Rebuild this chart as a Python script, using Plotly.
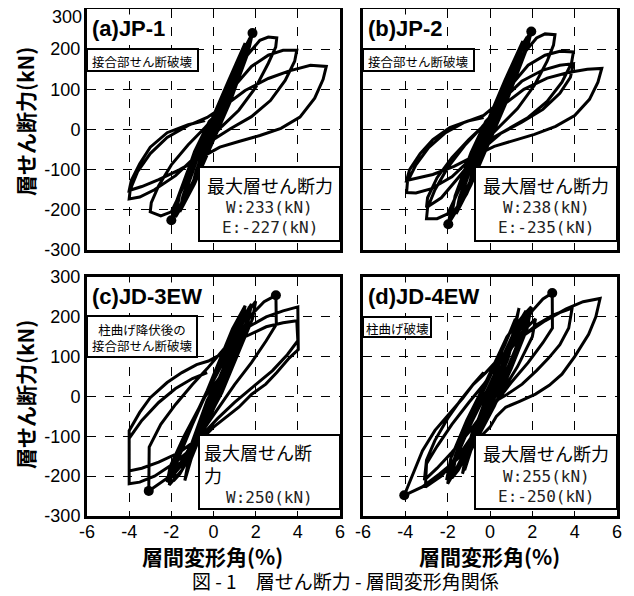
import plotly.graph_objects as go
from plotly.subplots import make_subplots

# ---------------- data (drift %, shear kN) ----------------
LOOP_A = [
    (0, 0), (0.25, 38), (0.5, 72), (0.35, 48), (0, 2), (-0.25, -36), (-0.5, -70), (-0.35, -45), (0, -2),
    (0.5, 68), (1.0, 140), (0.85, 112), (0.3, 30), (-0.3, -38), (-1.0, -138), (-0.85, -108), (-0.3, -25),
    (0.4, 60), (1.0, 148), (1.5, 205), (1.35, 172), (0.7, 75), (0, -10), (-0.8, -110), (-1.5, -195), (-1.35, -160), (-0.7, -62),
    (0.1, 30), (0.9, 135), (1.5, 205), (1.85, 240), (1.7, 205), (1.1, 118), (0.3, 12), (-0.5, -80), (-1.3, -165), (-1.75, -210),
    (-2.0, -226), (-1.85, -192), (-1.2, -100), (-0.4, -10),
    (0.4, 55), (1.2, 160), (1.75, 222), (1.6, 185), (1.0, 100), (0.2, -2), (-0.6, -90), (-1.4, -175), (-1.9, -214), (-1.75, -178),
    (-1.1, -92), (-0.3, 0),
    (0.6, 95), (1.3, 185), (1.7, 225), (1.55, 180), (0.8, 70), (0.0, -25), (-0.9, -135), (-1.6, -205), (-1.45, -165),
    (-0.75, -70), (0.0, 35), (0.7, 120), (1.5, 215), (1.35, 170), (0.5, 45), (-0.3, -60), (-1.1, -155), (-1.8, -218),
    (-1.6, -160), (-0.9, -55), (-0.2, 20),
    (0.3, 45), (0.9, 115), (1.6, 185), (2.2, 222), (2.6, 230), (3.0, 228), (2.95, 205), (2.6, 165), (2.0, 105), (1.2, 48), (0.4, 8),
    (-0.3, -32), (-1.0, -95), (-1.6, -160), (-2.0, -205), (-2.5, -215), (-3.0, -205), (-2.95, -182), (-2.6, -140), (-2.0, -88),
    (-1.2, -38), (-0.4, 5),
    (0.3, 45), (1.0, 108), (1.8, 157), (2.6, 185), (3.3, 197), (3.95, 197), (3.85, 170), (3.4, 122), (2.7, 72), (1.8, 32), (0.8, 2),
    (0, -25), (-0.8, -65), (-1.8, -115), (-2.8, -150), (-3.5, -168), (-4.0, -173), (-3.95, -150), (-3.6, -105), (-3.0, -60),
    (-2.2, -20), (-1.2, 10), (-0.3, 30),
    (0.5, 58), (1.5, 97), (2.6, 127), (3.6, 146), (4.6, 160), (5.35, 157), (5.2, 125), (4.8, 78), (4.1, 31), (3.2, 3), (2.2, -15),
    (1.2, -30), (0.3, -44), (-0.6, -70), (-1.6, -100), (-2.6, -125), (-3.4, -142), (-4.0, -152), (-3.9, -127), (-3.5, -85),
    (-3.0, -44), (-2.2, -8), (-1.2, 12), (-0.4, 22),
]

LOOP_B = [
    (0, 0), (0.25, 40), (0.5, 75), (0.35, 50), (0, 2), (-0.25, -38), (-0.5, -72), (-0.35, -48), (0, -2),
    (0.5, 70), (1.0, 145), (0.85, 115), (0.3, 32), (-0.3, -40), (-1.0, -140), (-0.85, -110), (-0.3, -28),
    (0.4, 62), (1.0, 150), (1.5, 210), (1.35, 175), (0.7, 78), (0, -10), (-0.8, -112), (-1.5, -200), (-1.35, -165), (-0.7, -65),
    (0.1, 32), (0.9, 138), (1.5, 210), (1.95, 244), (1.8, 210), (1.15, 120), (0.3, 12), (-0.5, -82), (-1.3, -170), (-1.75, -215),
    (-1.97, -236), (-1.85, -198), (-1.2, -105), (-0.4, -12),
    (0.4, 58), (1.2, 165), (1.8, 228), (1.65, 190), (1.0, 102), (0.2, -2), (-0.6, -92), (-1.4, -180), (-1.9, -222), (-1.75, -185),
    (-1.1, -95), (-0.3, 0),
    (0.6, 98), (1.3, 190), (1.75, 230), (1.6, 185), (0.8, 72), (0.0, -25), (-0.9, -138), (-1.6, -210), (-1.45, -170),
    (-0.75, -72), (0.0, 35), (0.7, 122), (1.55, 220), (1.4, 172), (0.5, 45), (-0.3, -62), (-1.1, -160), (-1.85, -225),
    (-1.65, -165), (-0.9, -58), (-0.2, 20),
    (0.3, 48), (0.9, 120), (1.6, 190), (2.2, 228), (2.6, 238), (3.07, 236), (3.0, 210), (2.7, 170), (2.1, 110), (1.3, 52), (0.5, 10),
    (-0.3, -32), (-1.0, -98), (-1.6, -165), (-2.0, -210), (-2.5, -222), (-3.0, -222), (-2.95, -195), (-2.6, -150), (-2.0, -95),
    (-1.2, -40), (-0.4, 5),
    (0.3, 48), (1.0, 110), (1.8, 160), (2.6, 185), (3.3, 195), (3.94, 193), (3.85, 165), (3.4, 118), (2.7, 70), (1.8, 30), (0.8, 0),
    (0, -25), (-0.8, -68), (-1.8, -118), (-2.8, -148), (-3.5, -158), (-3.94, -157), (-3.9, -130), (-3.5, -88), (-2.9, -45),
    (-2.1, -8), (-1.2, 18), (-0.3, 35),
    (0.5, 70), (1.5, 120), (2.5, 148), (3.3, 160), (3.94, 164), (3.8, 130), (3.3, 90), (2.5, 50), (1.5, 18), (0.5, -10),
    (-0.5, -55), (-1.5, -120), (-2.3, -170), (-3.0, -194), (-2.95, -170), (-2.5, -120), (-1.8, -70), (-1.0, -25), (-0.3, 10),
    (0.6, 60), (1.6, 100), (2.7, 128), (3.7, 142), (4.6, 150), (5.28, 152), (5.1, 118), (4.7, 75), (4.0, 35), (3.1, 8), (2.1, -12),
    (1.1, -28), (0.2, -42), (-0.7, -65), (-1.7, -92), (-2.7, -112), (-3.5, -122), (-3.94, -127), (-3.8, -100), (-3.3, -60),
    (-2.7, -25), (-1.9, 5), (-1.0, 22), (-0.3, 30),
]

LOOP_C = [
    (0, 0), (0.3, 40), (0.6, 75), (0.45, 50), (0, 0), (-0.3, -38), (-0.6, -72), (-0.45, -48), (0, -2),
    (0.5, 65), (1.0, 128), (0.85, 100), (0.3, 25), (-0.3, -40), (-1.0, -125), (-0.85, -95), (-0.3, -25),
    (0.5, 70), (1.1, 150), (1.45, 222), (1.3, 180), (0.6, 70), (0, -15), (-0.8, -110), (-1.36, -211), (-1.2, -165), (-0.5, -60),
    (0.2, 25), (1.0, 140), (1.6, 210), (2.0, 239), (1.85, 195), (1.2, 110), (0.4, 10), (-0.5, -80), (-1.3, -160), (-2.0, -202),
    (-1.85, -160), (-1.2, -85), (-0.4, 0),
    (0.4, 55), (1.2, 160), (1.7, 225), (1.55, 185), (0.9, 95), (0.1, 0), (-0.7, -90), (-1.68, -177), (-2.2, -215), (-2.05, -175),
    (-1.4, -100), (-0.5, -10),
    (0.6, 100), (1.3, 190), (1.8, 232), (1.6, 175), (0.9, 80), (0.1, -20), (-0.8, -120), (-1.6, -195), (-1.9, -212),
    (-1.7, -160), (-1.0, -70), (-0.2, 25), (0.7, 130), (1.3, 200), (1.15, 150), (0.4, 40), (-0.5, -75), (-1.5, -185),
    (-2.1, -222), (-1.9, -170), (-1.1, -75), (-0.3, 15), (0.9, 170), (1.5, 228), (1.3, 170), (0.5, 45), (-0.4, -70),
    (-1.2, -175), (-1.05, -120), (-0.3, -10),
    (0.3, 50), (1.0, 135), (1.8, 205), (2.4, 238), (2.96, 254), (2.98, 181), (2.5, 140), (1.8, 85), (1.0, 30), (0.2, -30),
    (-0.5, -85), (-1.3, -150), (-2.2, -205), (-3.07, -237), (-3.05, -127), (-2.5, -70), (-1.8, -20), (-1.0, 30), (-0.3, 70),
    (0.5, 120), (1.5, 170), (2.5, 200), (3.3, 215), (4.0, 225), (4.02, 118), (3.6, 97), (3.0, 60), (2.48, 31), (1.8, 5),
    (1.2, -27), (0.5, -55), (0, -77), (-0.8, -120), (-1.8, -165), (-2.8, -200), (-3.5, -215), (-4.0, -219), (-4.0, -86),
    (-3.5, -40), (-3.0, -3), (-2.2, 35), (-1.5, 60), (-0.8, 80), (-0.24, 89),
    (0.5, 110), (1.5, 150), (2.5, 175), (3.3, 185), (3.95, 190), (4.0, 140), (3.5, 105), (2.8, 65), (2.0, 30), (1.0, -15),
    (0.2, -55), (-0.6, -100), (-1.6, -140), (-2.6, -165), (-3.4, -180), (-4.0, -187), (-4.0, -105), (-3.4, -60), (-2.6, -15),
    (-1.8, 20), (-1.0, 45), (-0.3, 60),
]

LOOP_D = [
    (0, 0), (0.3, 38), (0.6, 72), (0.45, 48), (0, 0), (-0.3, -36), (-0.6, -70), (-0.45, -46), (0, -2),
    (0.5, 62), (1.0, 125), (0.85, 95), (0.3, 22), (-0.3, -40), (-1.0, -122), (-0.85, -92), (-0.3, -25),
    (0.5, 68), (1.0, 140), (1.37, 222), (1.2, 175), (0.6, 75), (0, -10), (-0.8, -105), (-1.3, -194), (-1.15, -150), (-0.5, -55),
    (0.2, 25), (1.0, 130), (1.5, 185), (1.84, 214), (1.7, 170), (1.1, 95), (0.4, 15), (-0.5, -75), (-1.3, -150), (-1.77, -200),
    (-1.65, -160), (-1.0, -80), (-0.3, 0),
    (0.5, 70), (1.3, 150), (2.15, 195), (2.0, 150), (1.3, 75), (0.5, 5), (-0.5, -80), (-1.4, -165), (-2.0, -219), (-1.85, -175),
    (-1.2, -100), (-0.4, -15),
    (0.6, 100), (1.3, 180), (1.7, 215), (1.55, 165), (0.9, 80), (0.1, -15), (-0.8, -115), (-1.5, -185), (-1.8, -205),
    (-1.65, -150), (-1.0, -65), (-0.2, 25), (0.7, 130), (1.2, 195), (1.05, 145), (0.3, 30), (-0.6, -80), (-1.5, -175),
    (-2.05, -210), (-1.85, -155), (-1.1, -60), (-0.3, 25), (0.8, 150), (1.6, 205), (1.95, 225), (1.75, 170), (1.0, 70),
    (0.2, -25), (-0.9, -135), (-1.2, -185), (-1.05, -130), (-0.3, -20),
    (0.4, 60), (1.2, 150), (2.0, 215), (2.5, 245), (2.94, 260), (2.95, 172), (2.5, 135), (1.8, 85), (1.0, 35), (0.2, -20),
    (-0.6, -80), (-1.5, -150), (-2.3, -200), (-3.05, -227), (-3.0, -169), (-2.5, -125), (-1.8, -70), (-1.0, -15), (-0.3, 30),
    (0.5, 90), (1.3, 140), (2.2, 180), (3.0, 205), (3.88, 222), (3.72, 172), (3.3, 130), (2.78, 97), (2.2, 65), (1.52, 31),
    (0.8, 5), (0.27, -11), (-0.36, -44), (-1.0, -90), (-1.8, -140), (-2.5, -180), (-3.1, -210), (-3.0, -160), (-2.6, -110),
    (-2.0, -55), (-1.4, -10), (-0.8, 30), (-0.2, 60),
    (0.5, 100), (1.5, 150), (2.6, 190), (3.6, 220), (4.4, 238), (5.2, 246), (5.0, 200), (4.66, 156), (4.0, 100), (3.4, 56),
    (2.8, 28), (2.15, 6), (1.4, -12), (0.74, -27), (0.3, -50), (0, -77), (-0.8, -120), (-1.6, -160), (-2.4, -195), (-3.2, -227),
    (-4.05, -248), (-3.6, -190), (-3.19, -136), (-2.6, -85), (-1.93, -44), (-1.3, -5), (-0.8, 30), (-0.3, 60),
]

PEAKS_A = [(1.85, 240), (-2.0, -226)]
PEAKS_B = [(1.95, 244), (-1.97, -236)]
PEAKS_C = [(2.96, 254), (-3.07, -237)]
PEAKS_D = [(2.94, 260), (-4.05, -248)]

PANEL_TITLES = ["(a)JP-1", "(b)JP-2", "(c)JD-3EW", "(d)JD-4EW"]
FAILURE_MODES = ["接合部せん断破壊", "接合部せん断破壊", "柱曲げ降伏後の<br>接合部せん断破壊", "柱曲げ破壊"]
MAX_W = ["W:233(kN)", "W:238(kN)", "W:250(kN)", "W:255(kN)"]
MAX_E = ["E:-227(kN)", "E:-235(kN)", "", "E:-250(kN)"]
Y_TICKS = [-300, -200, -100, 0, 100, 200, 300]
X_TICKS = [-6, -4, -2, 0, 2, 4, 6]
Y_TITLE = "層せん断力(kN)"
X_TITLE = "層間変形角(%)"
CAPTION = "図 - 1　層せん断力 - 層間変形角関係"

# ---------------- layout helpers (pixel geometry) ----------------
# the page body has an 8px default margin, so the figure starts at (8, 8)
OFF = 8
W, H = 634 - OFF, 596 - OFF
def px(x):
    return (x - OFF) / W
def py(y):
    return 1 - (y - OFF) / H

# panel rectangles in page pixels: left, top, right, bottom
RECTS = [(87, 9, 340, 250), (363, 9, 617, 250), (87, 277, 340, 516), (363, 277, 617, 516)]

CJK = "Noto Sans CJK JP"
SANS = "Liberation Sans, Arial, sans-serif"

fig = make_subplots(rows=2, cols=2)
loops = [LOOP_A, LOOP_B, LOOP_C, LOOP_D]
peaks = [PEAKS_A, PEAKS_B, PEAKS_C, PEAKS_D]
pos = [(1, 1), (1, 2), (2, 1), (2, 2)]
for lp, pk, (r, c) in zip(loops, peaks, pos):
    fig.add_trace(go.Scatter(x=[p[0] for p in lp], y=[p[1] for p in lp], mode="lines",
                             line=dict(color="black", width=3), showlegend=False,
                             hoverinfo="skip"), row=r, col=c)
    fig.add_trace(go.Scatter(x=[p[0] for p in pk], y=[p[1] for p in pk], mode="markers",
                             marker=dict(color="black", size=10), showlegend=False),
                  row=r, col=c)

axis_common = dict(showgrid=True, gridcolor="black", gridwidth=1, griddash="dash",
                   zeroline=False, showline=True, mirror=True, linecolor="black",
                   linewidth=3, ticks="", automargin=False,
                   tickfont=dict(family=SANS, size=18, color="black"))

layout = {}
for i, (l, t, r, b) in enumerate(RECTS):
    sfx = "" if i == 0 else str(i + 1)
    ytext = [str(v) for v in Y_TICKS]
    if i == 0:
        ytext[-1] = ""  # top label of panel (a) is drawn lower, as a note below
    layout["xaxis" + sfx] = dict(axis_common, domain=[px(l), px(r)], range=[-6, 6],
                                 tickvals=X_TICKS, ticktext=[str(v) for v in X_TICKS],
                                 showticklabels=(i >= 2), ticklabelstandoff=-3)
    layout["yaxis" + sfx] = dict(axis_common, domain=[py(b), py(t)], range=[-300, 300],
                                 tickvals=Y_TICKS, ticktext=ytext,
                                 showticklabels=(i % 2 == 0))
fig.update_layout(**layout)


def note(x, y, text, font, xanchor="center", **kw):
    return dict(x=px(x), y=py(y), xref="paper", yref="paper", xanchor=xanchor,
                yanchor="middle", showarrow=False, text=text, font=font, **kw)


def box(x0, y0, x1, y1):
    return dict(type="rect", xref="paper", yref="paper", x0=px(x0), x1=px(x1),
                y0=py(y1), y1=py(y0), fillcolor="white",
                line=dict(color="black", width=2), layer="above")


shapes = []
annotations = []
annotations.append(note(84, 17, str(Y_TICKS[-1]), dict(family=SANS, size=18, color="black"),
                        xanchor="right"))
for i, (l, t, r, b) in enumerate(RECTS):
    # panel title
    annotations.append(note(l + 3, t + 20, "<b>" + PANEL_TITLES[i] + "</b>",
                            dict(family=SANS, size=22, color="black"),
                            xanchor="left", bgcolor="white"))
    # failure mode box
    if i == 2:
        fb = (l, t + 39, l + 110, t + 80)
    elif i == 3:
        fb = (l, t + 40, l + 68, t + 60)
    else:
        fb = (l, t + 40, l + 111, t + 62)
    shapes.append(box(*fb))
    annotations.append(note((fb[0] + fb[2]) / 2, (fb[1] + fb[3]) / 2 + 1, FAILURE_MODES[i],
                            dict(family=CJK, size=12.5, color="black"), align="center"))
    # max shear box
    mb = (l + 112, t + 158, r, t + 232)
    shapes.append(box(*mb))
    cx = (mb[0] + mb[2]) / 2
    if i == 2:
        annotations.append(note(mb[0] + 3, mb[1] + 28, "最大層せん断<br>力",
                                dict(family=CJK, size=18, color="black"), xanchor="left",
                                align="left"))
        annotations.append(note(cx, mb[1] + 62, MAX_W[i],
                                dict(family="DejaVu Sans Mono", size=16, color="#222")))
    else:
        annotations.append(note(cx, mb[1] + 18, "最大層せん断力",
                                dict(family=CJK, size=18, color="black")))
        annotations.append(note(cx, mb[1] + 41, MAX_W[i],
                                dict(family="DejaVu Sans Mono", size=16, color="#222")))
        annotations.append(note(cx, mb[1] + 61, MAX_E[i],
                                dict(family="DejaVu Sans Mono", size=16, color="#222")))

# axis titles
for yc in (122, 395):
    annotations.append(note(25, yc, "<b>" + Y_TITLE + "</b>",
                            dict(family=CJK, size=21, color="black"), textangle=-90))
for xc in (212, 489):
    annotations.append(note(xc, 556, "<b>" + X_TITLE + "</b>",
                            dict(family=CJK, size=21, color="black")))
annotations.append(note(345, 580, CAPTION, dict(family=CJK, size=19, color="black")))

fig.update_layout(width=W, height=H, margin=dict(l=0, r=0, t=0, b=0, autoexpand=False),
                  paper_bgcolor="white", plot_bgcolor="white",
                  shapes=shapes, annotations=annotations, showlegend=False)

fig.write_html("out.html")
